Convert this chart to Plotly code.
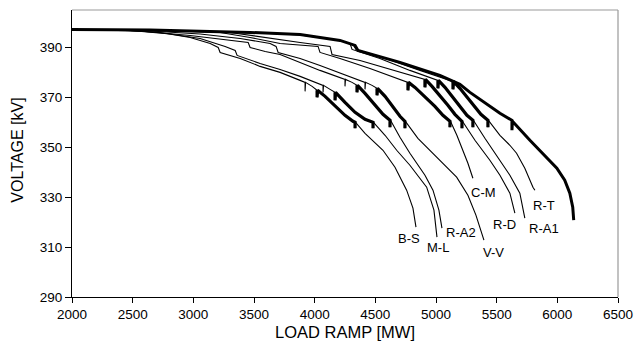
import plotly.graph_objects as go

# ---- data (MW, kV) ----
bs_mw = [2000,2398,2727,2974,3139,3205,3221,3386,3550,3715,3880,3921,3921,3925,3979,4020,4020,4024,4086,4168,4250,4316,4333,4333,4337,4415,4497,4563,4662,4758,4810,4835]
bs_kv = [397.2,397.0,396.0,394.0,391.6,390.0,388.0,385.6,382.4,380.0,376.8,376.0,372.4,376.0,374.4,372.8,370.0,372.8,370.4,366.4,362.8,360.4,360.0,357.6,360.0,355.6,352.0,348.8,342.0,332.8,325.6,318.0]

ml_mw = [2000,2480,2809,3056,3262,3345,3361,3550,3715,3880,4069,4069,4073,4127,4168,4168,4172,4250,4333,4415,4481,4481,4485,4580,4676,4785,4923,4983,5008]
ml_kv = [397.2,396.8,395.4,393.6,390.4,388.8,386.8,383.6,381.2,378.4,374.8,372.0,374.8,373.2,372.0,368.8,372.0,368.0,364.0,361.2,360.0,357.6,360.0,354.8,348.8,342.8,334.0,324.8,314.0]

ra2_mw = [2000,2562,2974,3303,3452,3468,3592,3715,3880,4044,4250,4250,4254,4308,4349,4349,4353,4415,4497,4563,4621,4621,4625,4703,4785,4909,4975,5024,5049]
ra2_kv = [397.2,396.6,394.8,392.8,392.0,390.0,388.4,387.2,384.0,380.8,377.2,374.4,377.2,376.0,374.8,372.0,374.8,371.6,366.8,363.2,360.8,358.0,360.8,354.0,347.6,338.8,332.8,324.8,317.6]

vv_mw = [2000,2645,3056,3386,3633,3682,3699,3880,4044,4250,4415,4415,4419,4473,4514,4514,4518,4580,4646,4703,4744,4744,4748,4851,4975,5074,5170,5263,5329,5395]
vv_kv = [397.2,396.6,395.4,393.6,391.6,390.4,388.0,385.6,382.8,379.2,376.0,373.2,376.0,374.8,373.6,370.8,373.6,370.4,366.0,362.4,360.4,357.6,360.4,353.6,347.6,342.8,338.0,330.8,322.8,312.8]

cm_mw = [2000,2645,3221,3468,3715,4028,4044,4209,4456,4662,4769,4769,4773,4827,4909,4991,5057,5115,5115,5119,5172,5222,5263,5304]
cm_kv = [397.2,397.0,396.0,394.0,391.6,390.4,388.0,385.6,381.6,378.0,376.0,372.8,376.0,374.0,370.4,366.4,362.8,360.4,358.0,360.4,354.8,348.8,343.6,337.6]

rd_mw = [2000,2645,3303,3633,3880,4127,4143,4374,4662,4909,4909,4913,4967,5032,5098,5156,5214,5214,5218,5321,5444,5527,5609,5650]
rd_kv = [397.2,397.0,396.0,393.6,392.0,390.4,387.2,384.8,380.8,377.2,374.0,377.2,374.4,370.8,366.8,363.2,360.4,357.6,360.4,352.8,344.8,338.8,331.6,323.6]

ra1_mw = [2000,2645,3468,3880,4209,4291,4308,4538,4785,5016,5016,5020,5074,5131,5197,5255,5304,5304,5308,5403,5527,5609,5691,5732]
ra1_kv = [397.2,397.0,396.0,395.0,392.8,391.6,389.2,385.6,380.8,376.8,373.6,376.8,374.0,370.4,366.0,362.8,360.8,358.0,360.8,353.6,344.8,338.8,331.6,321.6]

rt_mw = [2000,2645,3468,3880,4209,4316,4341,4538,4868,5140,5140,5144,5197,5255,5313,5370,5428,5428,5432,5527,5609,5664,5732,5799,5815]
rt_kv = [397.2,397.0,396.0,395.2,392.8,391.2,389.2,386.4,380.8,376.4,373.2,376.4,373.6,370.0,366.4,363.2,360.8,358.0,360.8,354.8,350.8,347.6,341.6,334.0,332.8]

base_mw = [2000,2645,3468,3880,4209,4333,4357,4703,5032,5197,5280,5362,5444,5527,5626,5626,5630,5774,5897,5996,6061,6103,6127,6135]
base_kv = [397.2,397.0,396.0,395.2,392.8,390.8,388.8,384.0,378.8,375.2,372.0,369.2,366.4,363.6,360.8,356.8,360.4,352.8,346.4,341.6,336.8,331.6,326.0,320.8]

labels = ["B-S", "M-L", "R-A2", "V-V", "C-M", "R-D", "R-A1", "R-T"]
label_mw = [4777, 5016, 5206, 5477, 5395, 5568, 5889, 5889]
label_kv = [313.6, 310.0, 316.0, 308.0, 332.0, 319.2, 317.6, 326.8]

x_ticks = [2000, 2500, 3000, 3500, 4000, 4500, 5000, 5500, 6000, 6500]
y_ticks = [290, 310, 330, 350, 370, 390]

# ---- styling ----
curves = [
    (bs_mw, bs_kv, (4020, 4333)),
    (ml_mw, ml_kv, (4168, 4481)),
    (ra2_mw, ra2_kv, (4349, 4621)),
    (vv_mw, vv_kv, (4514, 4744)),
    (cm_mw, cm_kv, (4769, 5115)),
    (rd_mw, rd_kv, (4909, 5214)),
    (ra1_mw, ra1_kv, (5016, 5304)),
    (rt_mw, rt_kv, (5140, 5428)),
]

FONT = "Arial, Liberation Sans, sans-serif"
fig = go.Figure()

for mw, kv, (b0, b1) in curves:
    fig.add_trace(go.Scatter(x=mw, y=kv, mode="lines",
                             line=dict(color="black", width=1.1),
                             hoverinfo="skip", showlegend=False))
    bx = [m for m in mw if b0 <= m <= b1]
    by = [v for m, v in zip(mw, kv) if b0 <= m <= b1]
    fig.add_trace(go.Scatter(x=bx, y=by, mode="lines",
                             line=dict(color="black", width=3.2),
                             hoverinfo="skip", showlegend=False))

fig.add_trace(go.Scatter(x=base_mw, y=base_kv, mode="lines",
                         line=dict(color="black", width=3),
                         hoverinfo="skip", showlegend=False))

for t, xm, yk in zip(labels, label_mw, label_kv):
    fig.add_annotation(x=xm, y=yk, text=t, showarrow=False,
                       font=dict(family=FONT, size=13, color="black"))

# axis titles as annotations for exact placement
fig.add_annotation(xref="paper", yref="paper", x=0.5, y=0, yshift=-35,
                   text="LOAD RAMP [MW]", showarrow=False, yanchor="middle",
                   font=dict(family=FONT, size=16.5, color="black"))
fig.add_annotation(xref="paper", yref="paper", x=0, y=0.51, xshift=-54,
                   text="VOLTAGE [kV]", showarrow=False, textangle=-90,
                   xanchor="center", yanchor="middle",
                   font=dict(family=FONT, size=16, color="black"))

# page body has an 8px margin, so the figure is 8px smaller and shifted
fig.update_layout(
    width=636, height=336,
    margin=dict(l=64, r=26, t=2, b=47, autoexpand=False),
    paper_bgcolor="white", plot_bgcolor="white",
    font=dict(family=FONT, color="black"),
    shapes=[
        dict(type="line", xref="paper", yref="paper", x0=0, x1=1, y0=1, y1=1,
             line=dict(color="#999999", width=1.2)),
        dict(type="line", xref="paper", yref="paper", x0=1, x1=1, y0=0, y1=1,
             line=dict(color="#999999", width=1.2)),
    ],
)
fig.update_xaxes(range=[2000, 6500], tickvals=x_ticks, ticks="outside", ticklen=5,
                 tickcolor="black", showline=True, linecolor="black", linewidth=1,
                 showgrid=False, zeroline=False, automargin=False,
                 tickfont=dict(family=FONT, size=13.5, color="black"))
fig.update_yaxes(range=[290, 405], tickvals=y_ticks, ticks="outside", ticklen=6,
                 tickcolor="black", showline=True, linecolor="black", linewidth=1,
                 showgrid=False, zeroline=False, automargin=False,
                 tickfont=dict(family=FONT, size=13.5, color="black"))

fig.write_html("out.html")
